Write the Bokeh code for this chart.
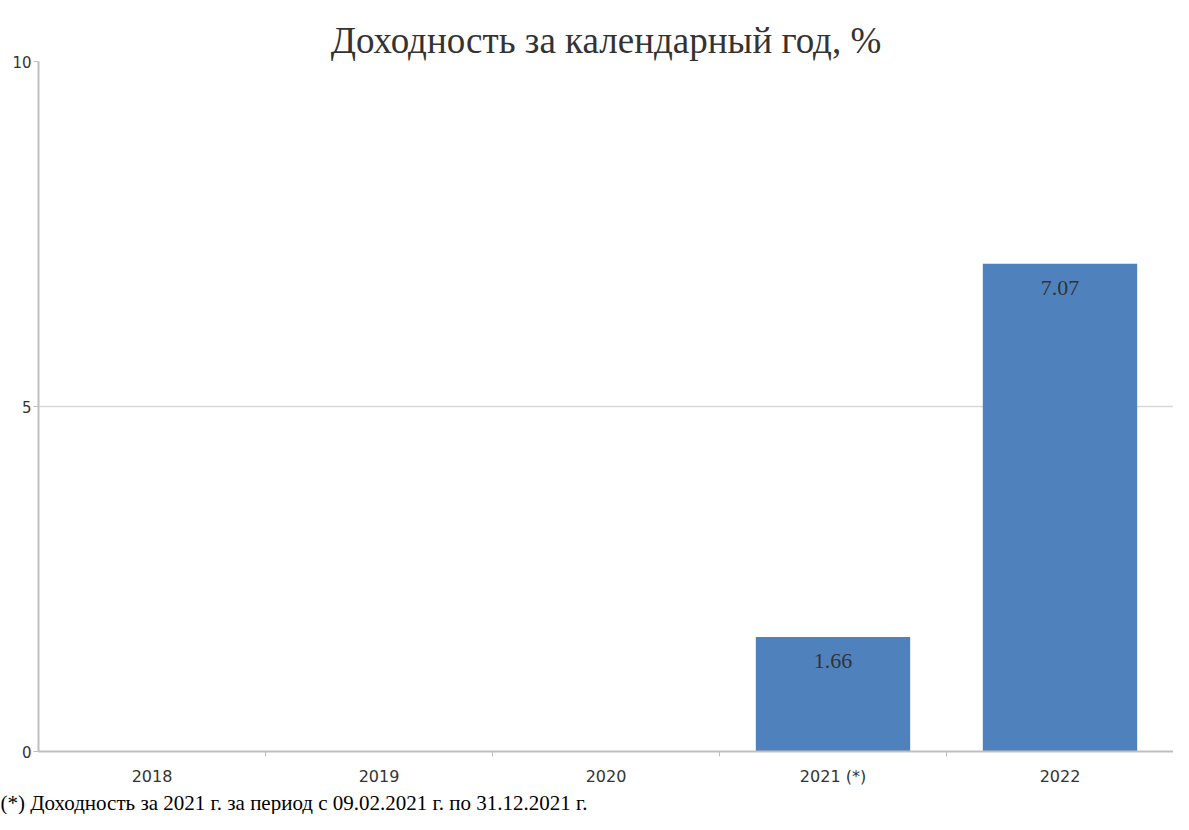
from bokeh.plotting import figure
from bokeh.models import ColumnDataSource, FixedTicker, Range1d, LabelSet, Title
from bokeh.embed import file_html
from bokeh.resources import INLINE

# ---- data ----
years = ["2018", "2019", "2020", "2021 (*)", "2022"]
returns = [None, None, None, 1.66, 7.07]
title_text = "Доходность за календарный год, %"
footnote_text = "(*) Доходность за 2021 г. за период с 09.02.2021 г. по 31.12.2021 г."
y_ticks = [0, 5, 10]

xs = [i + 0.5 for i in range(len(years))]
bx = [x for x, v in zip(xs, returns) if v is not None]
bv = [v for v in returns if v is not None]
blab = [f"{v:.2f}" for v in bv]
src = ColumnDataSource(dict(x=bx, top=bv, lab=blab))

p = figure(width=1173, height=814, output_backend="svg", toolbar_location=None,
           x_range=Range1d(0, len(years)), y_range=Range1d(0, 10),
           min_border_left=38, min_border_right=0, min_border_bottom=0, min_border_top=61)
p.title.text = title_text
p.title.text_font = "Liberation Serif"
p.title.text_font_size = "37px"
p.title.text_font_style = "normal"
p.title.text_color = "#333333"
p.title.align = "center"
p.title.offset = 0
p.title.standoff = 2

p.outline_line_color = None
p.background_fill_color = "white"
p.border_fill_color = "white"

p.vbar(x="x", top="top", width=0.68, bottom=0, source=src,
       fill_color="#4F81BD", line_color=None)

labels = LabelSet(x="x", y="top", text="lab", source=src, y_offset=-24,
                  text_align="center", text_baseline="middle",
                  text_font="Liberation Serif", text_font_size="22px",
                  text_color="#333333")
p.add_layout(labels)

# x axis: labels at centres, minor ticks at boundaries
xa = p.xaxis[0]
xa.ticker = FixedTicker(ticks=xs, minor_ticks=[i for i in range(1, len(years))])
xa.major_label_overrides = {x: y for x, y in zip(xs, years)}
xa.major_tick_line_color = None
xa.minor_tick_line_color = "#bfbfbf"
xa.minor_tick_out = 5
xa.minor_tick_in = 0
xa.axis_line_color = "#bfbfbf"
xa.axis_line_width = 2
xa.major_label_text_font = "DejaVu Sans"
xa.major_label_text_font_size = "16px"
xa.major_label_text_color = "#333333"
xa.major_label_standoff = 9
xa.axis_label_standoff = 0

ya = p.yaxis[0]
ya.ticker = FixedTicker(ticks=y_ticks)
ya.minor_tick_line_color = None
ya.major_tick_line_color = "#bfbfbf"
ya.major_tick_out = 5
ya.major_tick_in = 0
ya.axis_line_color = "#bfbfbf"
ya.axis_line_width = 2
ya.major_label_text_font = "DejaVu Sans"
ya.major_label_text_font_size = "15px"
ya.major_label_text_color = "#333333"
ya.major_label_standoff = 2

p.xgrid.grid_line_color = None
p.ygrid.grid_line_color = "#d9d9d9"
p.ygrid.grid_line_width = 1.5

foot = Title(text=footnote_text, align="left", offset=-38, standoff=0,
             text_font="Liberation Serif", text_font_size="21px", text_color="#000000",
             text_font_style="normal", text_line_height=1.0)
p.add_layout(foot, "below")

open("out.html", "w").write(file_html(p, INLINE))
